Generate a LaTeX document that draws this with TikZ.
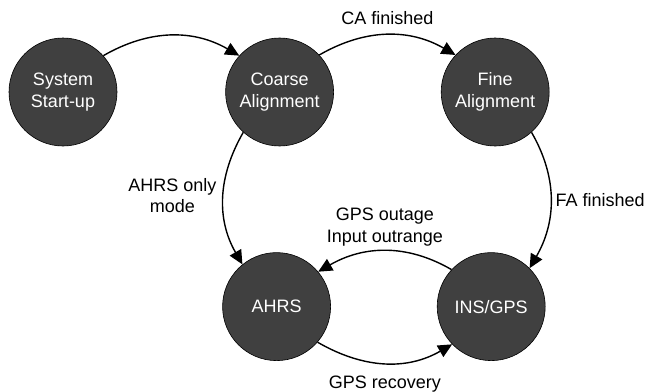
\documentclass[tikz,border=0pt]{standalone}
\usepackage{fontspec}
\setmainfont{Liberation Sans}
\usepackage{xcolor}
\usepackage{tikz}
\usetikzlibrary{arrows.meta,positioning}
\definecolor{sfill}{HTML}{404040}

\begin{document}
\begin{tikzpicture}[
  font=\fontsize{18}{21.5}\selectfont,
  st/.style={circle,draw=black,line width=0.6pt,fill=sfill,text=white,
             align=center,inner sep=0pt,minimum size=108pt},
  a/.style={-{Triangle[length=14pt,width=13pt]},line width=1.4pt,draw=black},
  lbl/.style={align=center,text=black}
]
\useasboundingbox (0pt,0pt) rectangle (648pt,-391pt);
\node[st] at (63pt,-92pt) (sys) {System\\Start-up};
\node[st,right=108pt of sys] (coarse) {Coarse\\Alignment};
\node[st,right=107pt of coarse] (fine) {Fine\\Alignment};
\node[st,below=106pt of coarse,xshift=-3pt] (ahrs) {AHRS};
\node[st,right=106pt of ahrs] (ins) {INS/GPS};
\draw[a] (sys.42) to[out=30,in=150] (coarse.138);
\draw[a] (coarse.43) to[out=30,in=150]
  node[lbl,above=6pt] (cafin) {CA finished} (fine.137);
\draw[a] (coarse.228) to[out=240,in=120]
  node[lbl,left=3pt,yshift=3pt] (only) {AHRS only\\mode} (ahrs.129);
\draw[a] (fine.312) to[out=-60,in=60]
  node[lbl,right=1pt] (fafin) {FA finished} (ins.45);
\draw[a] (ins.137) to[out=150,in=30]
  node[lbl,above=1pt] (outage) {GPS outage\\Input outrange} (ahrs.40);
\draw[a] (ahrs.-41) to[out=-30,in=-150]
  node[lbl,below=9pt] (recov) {GPS recovery} (ins.-136);
\end{tikzpicture}
\end{document}
